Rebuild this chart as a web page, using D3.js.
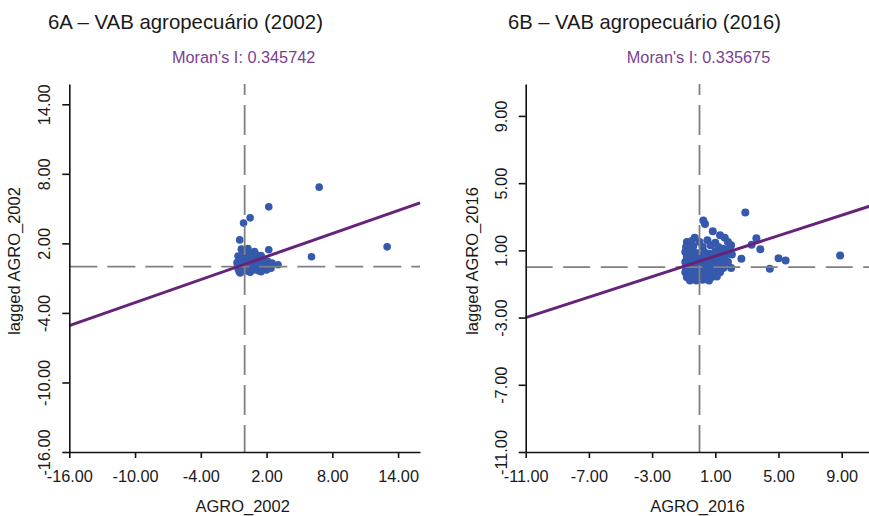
<!DOCTYPE html>
<html><head><meta charset="utf-8">
<script src="https://cdn.jsdelivr.net/npm/d3@7"></script>
<style>
html,body{margin:0;padding:0;background:#fff;}
svg{display:block;}
</style></head>
<body>
<svg id="chart" width="869" height="516"></svg>
<script>
// ---- DATA ----
const panelTitles = ["6A \u2013 VAB agropecuário (2002)", "6B \u2013 VAB agropecuário (2016)"];
const moranLabels = ["Moran's I: 0.345742", "Moran's I: 0.335675"];
const xAxisTitles = ["AGRO_2002", "AGRO_2016"];
const yAxisTitles = ["lagged AGRO_2002", "lagged AGRO_2016"];
const ticksA = [-16, -10, -4, 2, 8, 14];
const ticksB = [-11, -7, -3, 1, 5, 9];
// regression line end points (x, lagged y)
const lineA = [[-16, -5.1], [16, 5.5]];
const lineB = [[-11, -3.0], [11, 3.7]];
// points: [standardized value, spatial lag]
const pointsA = [
  [6.8, 6.85], [2.2, 5.15], [0.5, 4.2], [-0.1, 3.75], [-0.45, 2.3], [2.2, 1.45], [13.0, 1.7], [6.1, 0.85], [3.05, 0.15],
  [-0.3, 1.5], [0.3, 1.55], [0.9, 1.3], [1.1, 1.0], [1.5, 0.95], [-0.6, 0.9], [-0.2, 1.1], [0.2, 1.2], [0.6, 1.0],
  [-0.5, 0.5], [-0.1, 0.7], [0.4, 0.65], [0.8, 0.75], [1.3, 0.6], [1.8, 0.5], [2.1, 0.45], [-0.65, 0.1], [-0.3, 0.25],
  [0.1, 0.35], [0.5, 0.3], [0.9, 0.25], [1.4, 0.2], [1.9, 0.1], [-0.6, -0.2], [-0.25, -0.1], [0.15, -0.05], [0.6, -0.15],
  [1.0, -0.1], [1.6, -0.2], [2.4, -0.15], [-0.5, -0.45], [-0.1, -0.35], [0.3, -0.4], [0.8, -0.3], [1.2, -0.35], [2.0, -0.3],
  [-0.7, 0.35], [0.0, 0.95], [0.7, 0.5], [1.6, 0.7], [2.5, 0.3], [-0.4, -0.55], [0.5, -0.5], [1.5, -0.45]
];
const pointsB = [
  [2.9, 3.25], [0.24, 2.77], [0.35, 2.57], [0.84, 2.13], [3.6, 1.72], [3.3, 1.33], [3.85, 1.07], [2.65, 0.5],
  [4.45, -0.1], [5.0, 0.53], [5.45, 0.4], [8.9, 0.7],
  [-0.3, 1.75], [1.3, 1.9], [1.6, 1.75],
  [-0.8, 1.5], [-0.5, 1.55], [0.0, 1.5], [0.5, 1.6], [1.0, 1.45], [1.8, 1.5], [2.0, 1.3],
  [-0.85, 1.2], [-0.4, 1.25], [0.2, 1.2], [0.7, 1.3], [1.2, 1.2], [1.5, 1.1], [1.9, 1.1],
  [-0.9, 0.9], [-0.6, 0.95], [-0.2, 0.85], [0.3, 0.9], [0.6, 0.8], [1.0, 0.95], [1.4, 0.85], [1.75, 0.8], [2.05, 0.75],
  [-0.8, 0.6], [-0.45, 0.55], [0.0, 0.65], [0.45, 0.6], [0.85, 0.55], [1.2, 0.6], [1.6, 0.5],
  [-0.9, 0.3], [-0.6, 0.25], [-0.2, 0.35], [0.2, 0.3], [0.55, 0.25], [0.95, 0.3], [1.35, 0.25], [1.8, 0.3],
  [-0.85, 0.0], [-0.5, -0.05], [-0.1, 0.05], [0.3, 0.0], [0.7, -0.05], [1.1, 0.0], [1.5, -0.05], [2.0, -0.05],
  [-0.9, -0.3], [-0.55, -0.3], [-0.2, -0.25], [0.15, -0.3], [0.5, -0.3], [0.9, -0.25], [1.3, -0.3],
  [-0.8, -0.6], [-0.45, -0.55], [-0.05, -0.6], [0.35, -0.55], [0.75, -0.6], [1.1, -0.55],
  [-0.6, -0.8], [-0.2, -0.8], [0.2, -0.75], [0.6, -0.8]
];

// ---- LAYOUT ----
const svg = d3.select("#chart");
svg.append("rect").attr("width", 869).attr("height", 516).attr("fill", "#fff");

const panels = [
  { title: panelTitles[0], titleX: 48, titleW: 275, moran: moranLabels[0], xt: xAxisTitles[0], yt: yAxisTitles[0],
    ticks: ticksA, line: lineA, pts: pointsA, r: 3.8,
    x: d3.scaleLinear().domain([-16, 16]).range([69.3, 420]),
    y: d3.scaleLinear().domain([-16, 15.75]).range([452, 84]), yLabX: 20, yDash: "28,10" },
  { title: panelTitles[1], titleX: 508, titleW: 273, moran: moranLabels[1], xt: xAxisTitles[1], yt: yAxisTitles[1],
    ticks: ticksB, line: lineB, pts: pointsB, r: 4,
    x: d3.scaleLinear().domain([-11, 11]).range([525.7, 873.3]),
    y: d3.scaleLinear().domain([-11, 10.9]).range([452, 84]), yLabX: 478, yDash: "27,10.5" }
];

const fmt = d => d.toFixed(2);
const font = "Arial, 'Liberation Sans', Helvetica, sans-serif";

panels.forEach(p => {
  const g = svg.append("g");
  const [x0, x1] = p.x.range();
  const [yb, yt] = p.y.range();

  // title
  g.append("text").attr("x", p.titleX).attr("y", 29)
    .attr("font-family", "'Liberation Sans Narrow', 'Arial Narrow', Arial, sans-serif")
    .attr("font-size", 21).attr("fill", "#1a1a1a")
    .attr("textLength", p.titleW).attr("lengthAdjust", "spacingAndGlyphs")
    .text(p.title);

  // Moran's I
  g.append("text").attr("x", p.x(0) - 1).attr("y", 63).attr("text-anchor", "middle")
    .attr("font-family", font).attr("font-size", 16.3).attr("fill", "#7a3f92")
    .text(p.moran);

  // points
  g.append("g").selectAll("circle").data(p.pts).join("circle")
    .attr("cx", d => p.x(d[0])).attr("cy", d => p.y(d[1])).attr("r", p.r)
    .attr("fill", "#3559ad");

  // dashed reference lines at the mean (0)
  g.append("line").attr("x1", p.x(0)).attr("x2", p.x(0)).attr("y1", yt).attr("y2", yb)
    .attr("stroke", "#808080").attr("stroke-width", 1.8)
    .attr("stroke-dasharray", "30,10").attr("stroke-dashoffset", 19);
  g.append("line").attr("x1", x0).attr("x2", x1).attr("y1", p.y(0)).attr("y2", p.y(0))
    .attr("stroke", "#808080").attr("stroke-width", 1.8)
    .attr("stroke-dasharray", p.yDash);

  // regression line
  g.append("path").datum(p.line)
    .attr("d", d3.line().x(d => p.x(d[0])).y(d => p.y(d[1])))
    .attr("stroke", "#66237a").attr("stroke-width", 3).attr("fill", "none");

  // axes
  const xa = g.append("g").attr("transform", `translate(0,${yb})`)
    .call(d3.axisBottom(p.x).tickValues(p.ticks).tickFormat(fmt).tickSize(6).tickSizeOuter(0));
  xa.select(".domain").attr("stroke", "#111").attr("stroke-width", 1.6);
  xa.selectAll(".tick line").attr("stroke", "#111").attr("stroke-width", 1.6);
  xa.selectAll(".tick text").attr("y", 30).attr("dy", null)
    .attr("font-family", font).attr("font-size", 16.3).attr("fill", "#1a1a1a");

  const ya = g.append("g").attr("transform", `translate(${x0},0)`)
    .call(d3.axisLeft(p.y).tickValues(p.ticks).tickFormat(fmt).tickSize(7).tickSizeOuter(0));
  ya.select(".domain").attr("stroke", "#111").attr("stroke-width", 1.6);
  ya.selectAll(".tick line").attr("stroke", "#111").attr("stroke-width", 1.6);
  ya.selectAll(".tick text").attr("x", null).attr("dy", null).attr("text-anchor", "middle")
    .attr("transform", "translate(-19,0) rotate(-90)")
    .attr("font-family", font).attr("font-size", 16.3).attr("fill", "#1a1a1a");

  // axis titles
  g.append("text").attr("x", p.x(0) - 2).attr("y", 512).attr("text-anchor", "middle")
    .attr("font-family", font).attr("font-size", 16.5).attr("fill", "#1a1a1a").text(p.xt);
  g.append("text").attr("transform", `translate(${p.yLabX},261) rotate(-90)`).attr("text-anchor", "middle")
    .attr("font-family", font).attr("font-size", 16.5).attr("fill", "#1a1a1a").text(p.yt);
});
</script>
</body></html>
